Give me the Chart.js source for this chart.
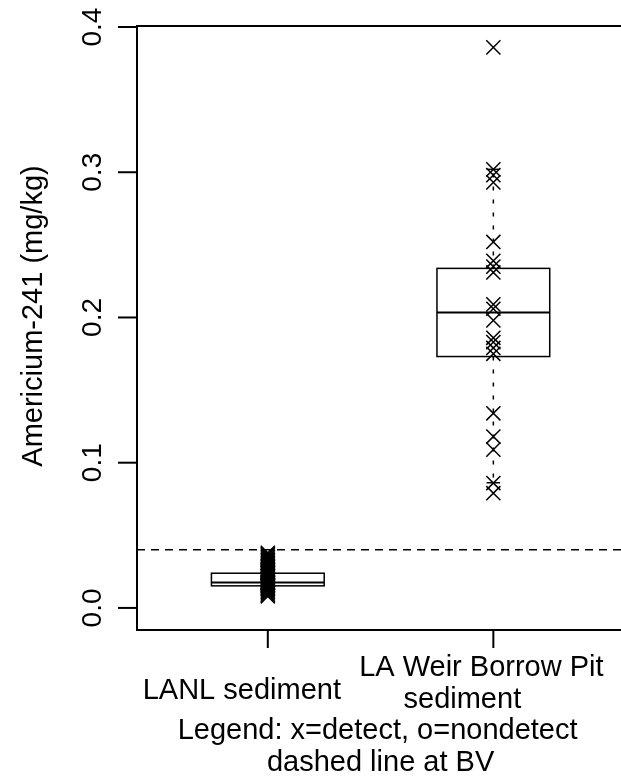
<!DOCTYPE html>
<html lang="en">
<head>
<meta charset="UTF-8">
<title>Americium-241 by source</title>
<script src="https://cdn.jsdelivr.net/npm/chart.js@4"></script>
<style>
  html, body {
    margin: 0;
    padding: 0;
    background: #fff;
    overflow: hidden;
  }
  #wrap {
    position: relative;
    width: 621px;
    height: 782px;
  }
</style>
</head>
<body>

<div id="wrap"><canvas id="boxChart" width="621" height="782"></canvas></div>

<script>
// categories and their x positions (R style: 1, 2)
const groupPos = [1, 2];
const groupLabels = [['LANL sediment'], ['LA Weir Borrow Pit', 'sediment']];

// detected values (mg/kg)
const lanlValues = [0.038, 0.037, 0.036, 0.035, 0.034, 0.033, 0.032, 0.031, 0.030, 0.029,
  0.028, 0.027, 0.026, 0.025, 0.025, 0.024, 0.024, 0.023, 0.022, 0.022, 0.021, 0.020,
  0.020, 0.019, 0.019, 0.018, 0.018, 0.017, 0.017, 0.017, 0.016, 0.016, 0.016, 0.015,
  0.015, 0.014, 0.014, 0.013, 0.012, 0.011, 0.010, 0.009, 0.008];
const weirValues = [0.386, 0.302, 0.298, 0.293, 0.252, 0.239, 0.235, 0.231, 0.209, 0.206,
  0.198, 0.186, 0.183, 0.179, 0.175, 0.134, 0.118, 0.109, 0.086, 0.079];

// box stats: low whisker, q1, median, q3, high whisker
const lanlBox = [0.0083, 0.0152, 0.0175, 0.0239, 0.037];
const weirBox = [0.0862, 0.1731, 0.2034, 0.2338, 0.302];

const bvValue = 0.04;
const yTicks = [0, 0.1, 0.2, 0.3, 0.4];
const yTickLabels = ['0.0', '0.1', '0.2', '0.3', '0.4'];
const yTitle = 'Americium-241 (mg/kg)';
const xNotes = ['Legend: x=detect, o=nondetect', 'dashed line at BV'];

const FONT = "'Liberation Sans', Arial, sans-serif";

function drawText(ctx, text, x, y, size, rotate) {
  ctx.save();
  ctx.translate(x, y);
  if (rotate) ctx.rotate(-Math.PI / 2);
  ctx.font = size + 'px ' + FONT;
  ctx.fillStyle = '#000';
  ctx.textAlign = 'center';
  ctx.textBaseline = 'alphabetic';
  ctx.fillText(text, 0, 0);
  ctx.restore();
}

function hLine(ctx, x0, x1, y) {
  ctx.beginPath();
  ctx.moveTo(x0, y);
  ctx.lineTo(x1, y);
  ctx.stroke();
}

const boxPlugin = {
  id: 'boxPlugin',
  beforeDatasetsDraw(chart) {
    const ctx = chart.ctx;
    const xs = chart.scales.x;
    const ys = chart.scales.y;
    const area = chart.chartArea;

    // BV dashed line
    ctx.save();
    ctx.strokeStyle = '#000';
    ctx.lineWidth = 1.5;
    ctx.setLineDash([8, 6]);
    hLine(ctx, area.left, area.right, ys.getPixelForValue(bvValue));
    ctx.restore();

    [lanlBox, weirBox].forEach((st, i) => {
      const cx = xs.getPixelForValue(groupPos[i]);
      const x0 = xs.getPixelForValue(groupPos[i] - 0.25);
      const x1 = xs.getPixelForValue(groupPos[i] + 0.25);
      const sw = xs.getPixelForValue(groupPos[i] + 0.03) - cx;
      const [lo, q1, med, q3, hi] = st.map(v => ys.getPixelForValue(v));

      ctx.save();
      ctx.strokeStyle = '#000';
      ctx.lineWidth = 1.5;

      // whiskers
      ctx.setLineDash([4, 9]);
      ctx.beginPath();
      ctx.moveTo(cx, q3); ctx.lineTo(cx, hi);
      ctx.moveTo(cx, q1); ctx.lineTo(cx, lo);
      ctx.stroke();
      ctx.setLineDash([]);

      // staples
      hLine(ctx, cx - sw, cx + sw, hi);
      hLine(ctx, cx - sw, cx + sw, lo);

      // box
      ctx.fillStyle = '#fff';
      ctx.fillRect(x0, q3, x1 - x0, q1 - q3);
      ctx.strokeRect(x0, q3, x1 - x0, q1 - q3);

      // median
      ctx.lineWidth = 2;
      hLine(ctx, x0, x1, med);
      ctx.restore();
    });
  },
  afterDraw(chart) {
    const ctx = chart.ctx;
    const xs = chart.scales.x;
    const ys = chart.scales.y;
    const area = chart.chartArea;

    // plot frame; its right side (x = 2.58) falls just past the page edge
    const frameRight = xs.getPixelForValue(2.58);
    ctx.save();
    ctx.strokeStyle = '#000';
    ctx.lineWidth = 2;
    hLine(ctx, area.left - 1, area.right + 2, area.top);
    hLine(ctx, area.left - 1, area.right + 2, area.bottom);
    ctx.beginPath();
    ctx.moveTo(area.left, area.top);
    ctx.lineTo(area.left, area.bottom);
    ctx.stroke();

    // y ticks + labels
    yTicks.forEach(v => {
      hLine(ctx, area.left - 19, area.left, ys.getPixelForValue(v));
    });
    yTicks.forEach((v, i) => {
      drawText(ctx, yTickLabels[i], area.left - 36, ys.getPixelForValue(v), 28, true);
    });
    drawText(ctx, yTitle, 42, (area.top + area.bottom) / 2 - 12, 29, true);

    // x ticks + category labels
    ctx.beginPath();
    groupPos.forEach(p => {
      const px = xs.getPixelForValue(p);
      ctx.moveTo(px, area.bottom);
      ctx.lineTo(px, area.bottom + 18);
    });
    ctx.stroke();
    ctx.restore();

    drawText(ctx, groupLabels[0][0], xs.getPixelForValue(groupPos[0]) - 26, area.bottom + 69, 29);
    drawText(ctx, groupLabels[1][0], xs.getPixelForValue(groupPos[1]) - 12, area.bottom + 46, 29);
    drawText(ctx, groupLabels[1][1], xs.getPixelForValue(groupPos[1]) - 31, area.bottom + 78, 29);

    const mid = (area.left + frameRight) / 2;
    drawText(ctx, xNotes[0], mid - 3, area.bottom + 109, 29);
    drawText(ctx, xNotes[1], mid, area.bottom + 141, 29);
  }
};

const ctx = document.getElementById('boxChart').getContext('2d');
new Chart(ctx, {
  type: 'scatter',
  data: {
    datasets: [
      {
        label: 'LANL sediment',
        data: lanlValues.map(v => ({ x: groupPos[0], y: v })),
        pointStyle: 'crossRot',
        pointRadius: 10,
        borderColor: '#000',
        borderWidth: 1.5
      },
      {
        label: 'LA Weir Borrow Pit sediment',
        data: weirValues.map(v => ({ x: groupPos[1], y: v })),
        pointStyle: 'crossRot',
        pointRadius: 10,
        borderColor: '#000',
        borderWidth: 1.5
      }
    ]
  },
  options: {
    responsive: false,
    animation: false,
    devicePixelRatio: 1,
    layout: {
      autoPadding: false,
      padding: { left: 137, top: 26, right: 0, bottom: 152 }
    },
    plugins: {
      legend: { display: false },
      tooltip: { enabled: false }
    },
    scales: {
      x: { type: 'linear', min: 0.42, max: 2.566, display: false },
      y: { type: 'linear', min: -0.0152, max: 0.4007, display: false }
    }
  },
  plugins: [boxPlugin]
});
</script>

</body>
</html>
